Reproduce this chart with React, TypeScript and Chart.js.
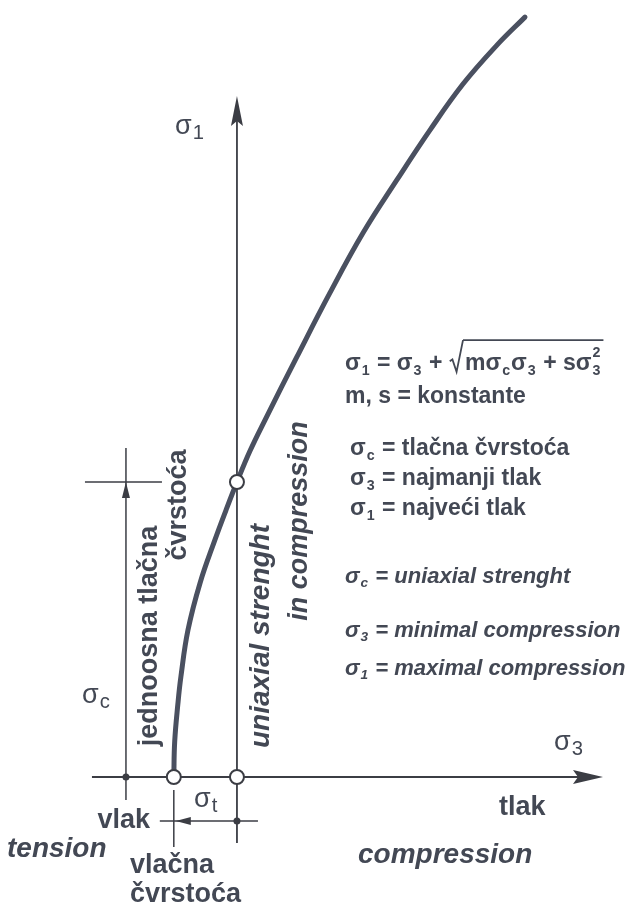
import React, { useEffect, useRef } from 'react';
import { Chart, registerables } from 'chart.js';

Chart.register(...registerables);

// ---- data (in units of the uniaxial compressive strength σc) ----
const sigma3 = [-0.214, -0.211, -0.2, -0.19, -0.166, -0.125, -0.075, -0.037, 0, 0.044, 0.095, 0.203, 0.315, 0.427, 0.542, 0.654, 0.766, 0.881, 0.976];
const sigma1 = [0, 0.12, 0.25, 0.34, 0.498, 0.658, 0.803, 0.905, 1.0, 1.105, 1.21, 1.424, 1.641, 1.844, 2.024, 2.193, 2.349, 2.481, 2.576];
const SIGMA_C = 1.0;
const SIGMA_T = 0.214;
const markerSigma3 = [-SIGMA_T, 0, 0];
const markerSigma1 = [0, 0, SIGMA_C];

const X_MIN = -0.803;
const X_MAX = 1.315;
const Y_MIN = -0.444;
const Y_MAX = 2.634;

const FAMILY = '"Liberation Sans", Arial, Helvetica, sans-serif';
const TEXT_COLOR = '#434854';
const LINE_COLOR = '#3b3d44';
const CURVE_COLOR = '#4a5060';

type Seg = { t?: string; sub?: string; sup?: string; rad?: 'open' | 'close' };

function font(size: number, weight = 'normal', style = 'normal') {
  return `${style} ${weight} ${size}px ${FAMILY}`;
}

function rich(ctx: CanvasRenderingContext2D, x: number, y: number, segs: Seg[], size: number, weight = 'bold', style = 'normal', subScale = 0.62) {
  let cx = x;
  let radStart = 0;
  let radTop = 0;
  ctx.textAlign = 'left';
  ctx.textBaseline = 'alphabetic';
  for (const s of segs) {
    if (s.rad === 'open') {
      ctx.save();
      ctx.strokeStyle = TEXT_COLOR;
      ctx.lineWidth = 1.8;
      ctx.lineJoin = 'miter';
      ctx.beginPath();
      ctx.moveTo(cx + 1, y - size * 0.38);
      ctx.lineTo(cx + size * 0.16, y - size * 0.46);
      ctx.lineTo(cx + size * 0.34, y + size * 0.08);
      ctx.lineTo(cx + size * 0.62, y - size * 1.3);
      ctx.stroke();
      ctx.restore();
      radStart = cx + size * 0.62;
      radTop = y - size * 1.3;
      cx = radStart + 2;
      continue;
    }
    if (s.rad === 'close') {
      ctx.save();
      ctx.strokeStyle = TEXT_COLOR;
      ctx.lineWidth = 1.6;
      ctx.beginPath();
      ctx.moveTo(radStart, radTop);
      ctx.lineTo(cx + 2, radTop);
      ctx.stroke();
      ctx.restore();
      continue;
    }
    if (s.t) {
      ctx.font = font(size, weight, style);
      ctx.fillText(s.t, cx, y);
      cx += ctx.measureText(s.t).width;
    }
    if (s.sub || s.sup) {
      const ss = size * subScale;
      ctx.font = font(ss, weight, style);
      let w = 0;
      if (s.sub) {
        ctx.fillText(s.sub, cx + 1, y + size * 0.2);
        w = ctx.measureText(s.sub).width;
      }
      if (s.sup) {
        ctx.fillText(s.sup, cx + 1, y - size * 0.55);
        w = Math.max(w, ctx.measureText(s.sup).width);
      }
      cx += w + 2;
    }
  }
  return cx;
}

function rotText(ctx: CanvasRenderingContext2D, text: string, baseX: number, centerY: number, f: string) {
  ctx.save();
  ctx.translate(baseX, centerY);
  ctx.rotate(-Math.PI / 2);
  ctx.font = f;
  ctx.textAlign = 'center';
  ctx.textBaseline = 'alphabetic';
  ctx.fillText(text, 0, 0);
  ctx.restore();
}

function line(ctx: CanvasRenderingContext2D, x1: number, y1: number, x2: number, y2: number, w = 1.6) {
  ctx.beginPath();
  ctx.lineWidth = w;
  ctx.moveTo(x1, y1);
  ctx.lineTo(x2, y2);
  ctx.stroke();
}

function tri(ctx: CanvasRenderingContext2D, pts: number[][]) {
  ctx.beginPath();
  ctx.moveTo(pts[0][0], pts[0][1]);
  for (let i = 1; i < pts.length; i++) ctx.lineTo(pts[i][0], pts[i][1]);
  ctx.closePath();
  ctx.fill();
}

const diagramPlugin = {
  id: 'hoekBrownDiagram',
  beforeDatasetsDraw(chart: any) {
    const ctx: CanvasRenderingContext2D = chart.ctx;
    const xs = chart.scales.x;
    const ys = chart.scales.y;
    const ox = xs.getPixelForValue(0);
    const oy = ys.getPixelForValue(0);
    const cy = ys.getPixelForValue(SIGMA_C);
    const tx = xs.getPixelForValue(-SIGMA_T);
    const top = ys.getPixelForValue(Y_MAX) + 96;
    const right = xs.getPixelForValue(X_MAX) - 22;
    const dimX = ox - 111;
    ctx.save();
    ctx.strokeStyle = LINE_COLOR;
    ctx.fillStyle = LINE_COLOR;
    // σ1 axis (continues below as σt extension)
    line(ctx, ox, top + 20, ox, oy + 66, 1.8);
    tri(ctx, [[ox, top], [ox - 6, top + 30], [ox, top + 25], [ox + 6, top + 30]]);
    // σ3 axis
    line(ctx, ox - 145, oy, right - 20, oy, 2);
    tri(ctx, [[right, oy], [right - 30, oy - 7], [right - 25, oy], [right - 30, oy + 7]]);
    // σc dimension line
    line(ctx, dimX, cy - 34, dimX, oy + 23, 1.5);
    line(ctx, dimX - 41, cy, dimX + 36, cy, 1.5);
    tri(ctx, [[dimX, cy], [dimX - 4, cy + 16], [dimX + 4, cy + 16]]);
    // σt dimension lines
    line(ctx, tx, oy + 13, tx, oy + 70, 1.5);
    line(ctx, tx - 14, oy + 44, ox + 21, oy + 44, 1.5);
    tri(ctx, [[tx + 2, oy + 44], [tx + 17, oy + 40], [tx + 17, oy + 48]]);
    ctx.restore();
  },
  afterDatasetsDraw(chart: any) {
    const ctx: CanvasRenderingContext2D = chart.ctx;
    const xs = chart.scales.x;
    const ys = chart.scales.y;
    const ox = xs.getPixelForValue(0);
    const oy = ys.getPixelForValue(0);
    const dimX = ox - 111;
    ctx.save();
    ctx.fillStyle = LINE_COLOR;
    ctx.beginPath();
    ctx.arc(dimX, oy, 3.5, 0, Math.PI * 2);
    ctx.fill();
    ctx.beginPath();
    ctx.arc(ox, oy + 44, 3.5, 0, Math.PI * 2);
    ctx.fill();

    ctx.fillStyle = TEXT_COLOR;
    // axis symbols
    rich(ctx, 175, 134, [{ t: 'σ', sub: '1' }], 27, 'normal', 'normal', 0.75);
    rich(ctx, 554, 750, [{ t: 'σ', sub: '3' }], 27, 'normal', 'normal', 0.75);
    rich(ctx, 82, 703, [{ t: 'σ', sub: 'c' }], 27, 'normal', 'normal', 0.75);
    rich(ctx, 194, 807, [{ t: 'σ', sub: 't' }], 27, 'normal', 'normal', 0.75);

    // right text block
    rich(ctx, 345, 370, [
      { t: 'σ', sub: '1' }, { t: ' = σ', sub: '3' }, { t: ' + ' }, { rad: 'open' },
      { t: 'mσ', sub: 'c' }, { t: 'σ', sub: '3' }, { t: ' + sσ', sub: '3', sup: '2' }, { rad: 'close' },
    ], 23, 'bold');
    rich(ctx, 345, 403, [{ t: 'm, s = konstante' }], 23, 'bold');
    rich(ctx, 350, 455, [{ t: 'σ', sub: 'c' }, { t: ' = tlačna čvrstoća' }], 23, 'bold');
    rich(ctx, 350, 485, [{ t: 'σ', sub: '3' }, { t: ' = najmanji tlak' }], 23, 'bold');
    rich(ctx, 350, 515, [{ t: 'σ', sub: '1' }, { t: ' = najveći tlak' }], 23, 'bold');
    rich(ctx, 345, 583, [{ t: 'σ', sub: 'c' }, { t: ' = uniaxial strenght' }], 22, 'bold', 'italic');
    rich(ctx, 345, 637, [{ t: 'σ', sub: '3' }, { t: ' = minimal compression' }], 22, 'bold', 'italic');
    rich(ctx, 345, 675, [{ t: 'σ', sub: '1' }, { t: ' = maximal compression' }], 22, 'bold', 'italic');

    // bottom labels
    ctx.textBaseline = 'alphabetic';
    ctx.font = font(27, 'bold');
    ctx.textAlign = 'right';
    ctx.fillText('vlak', 150, 828);
    ctx.textAlign = 'left';
    ctx.fillText('vlačna', 130, 873);
    ctx.fillText('čvrstoća', 130, 902);
    ctx.fillText('tlak', 499, 815);
    ctx.font = font(28, 'bold', 'italic');
    ctx.fillText('tension', 7, 857);
    ctx.fillText('compression', 358, 863);

    // rotated labels
    rotText(ctx, 'jednoosna tlačna', 157, 636, font(27, 'bold'));
    rotText(ctx, 'čvrstoća', 186, 505, font(27, 'bold'));
    rotText(ctx, 'uniaxial strenght', 269, 636, font(28, 'bold', 'italic'));
    rotText(ctx, 'in compression', 307, 521, font(27, 'bold', 'italic'));
    ctx.restore();
  },
};

export default function App() {
  const ref = useRef<HTMLCanvasElement | null>(null);
  useEffect(() => {
    if (!ref.current) return;
    const chart = new Chart(ref.current, {
      type: 'scatter',
      data: {
        datasets: [
          {
            label: 'points',
            data: markerSigma3.map((x, i) => ({ x, y: markerSigma1[i] })),
            pointRadius: 7,
            pointBackgroundColor: '#ffffff',
            pointBorderColor: LINE_COLOR,
            pointBorderWidth: 2,
            showLine: false,
            order: 0,
          },
          {
            label: 'Hoek-Brown',
            data: sigma3.map((x, i) => ({ x, y: sigma1[i] })),
            showLine: true,
            borderColor: CURVE_COLOR,
            borderWidth: 5,
            pointRadius: 0,
            tension: 0.4,
            borderCapStyle: 'round',
            order: 1,
          },
        ],
      },
      options: {
        animation: false,
        responsive: true,
        maintainAspectRatio: false,
        layout: { padding: 0, autoPadding: false },
        plugins: { legend: { display: false }, tooltip: { enabled: false } },
        events: [],
        scales: {
          x: { type: 'linear', display: false, min: X_MIN, max: X_MAX },
          y: { type: 'linear', display: false, min: Y_MIN, max: Y_MAX },
        },
      },
      plugins: [diagramPlugin],
    } as any);
    return () => chart.destroy();
  }, []);
  return (
    <div style={{ position: 'fixed', left: 0, top: 0, width: 625, height: 908, background: '#ffffff' }}>
      <canvas ref={ref} />
    </div>
  );
}
